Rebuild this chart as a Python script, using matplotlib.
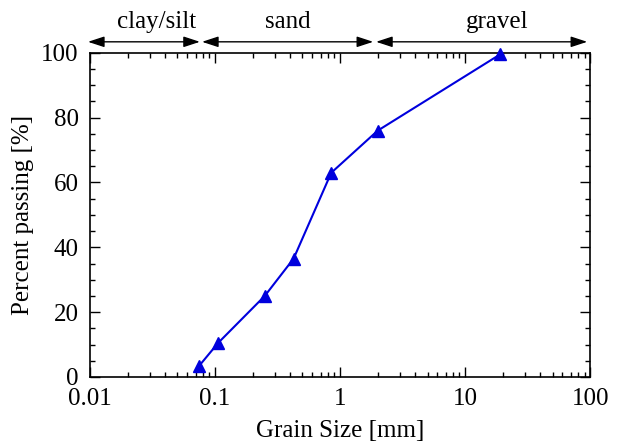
import numpy as np
import matplotlib.pyplot as plt
from matplotlib.ticker import LogLocator, MultipleLocator, FixedLocator

plt.rcParams['font.family'] = ['Liberation Serif', 'DejaVu Serif']
plt.rcParams['font.size'] = 18

# sieve data
grain_size = [0.075, 0.106, 0.25, 0.425, 0.85, 2.0, 19.0]
passing = [3.5, 10.5, 25.0, 36.5, 63.0, 76.0, 99.5]

# soil class boundaries [mm]
class_names = ["clay/silt", "sand", "gravel"]
class_bounds = [(0.01, 0.075), (0.075, 2.0), (2.0, 100.0)]

fig = plt.figure(figsize=(6.2, 4.44), dpi=100)
ax = fig.add_axes([0.145, 0.151, 0.807, 0.730])

ax.plot(grain_size, passing, color="#0000dd", marker="^", markersize=8, lw=1.5, clip_on=False, zorder=5)

ax.set_xscale("log")
ax.set_xlim(0.01, 100)
ax.set_ylim(0, 100)
ax.xaxis.set_major_locator(FixedLocator([0.01, 0.1, 1, 10, 100]))
ax.set_xticklabels(["0.01", "0.1", "1", "10", "100"])
ax.xaxis.set_minor_locator(LogLocator(base=10, subs=np.arange(2, 10), numticks=20))
ax.yaxis.set_major_locator(MultipleLocator(20))
ax.yaxis.set_minor_locator(MultipleLocator(5))
ax.tick_params(which="both", direction="in", top=True, right=True, width=1, labelsize=18)
ax.tick_params(which="major", length=7)
ax.tick_params(which="minor", length=3.5)
ax.tick_params(axis="x", which="major", pad=8)
ax.tick_params(axis="y", which="major", pad=8)
for s in ax.spines.values():
    s.set_linewidth(1.2)

ax.set_xlabel("Grain Size [mm]", labelpad=7)
ax.set_ylabel("Percent passing [%]", labelpad=5)

# class arrows above the plot
ytop = 1.034
arrow_ends = [(0.965, 1.01), (1.05, 0.92), (0.97, 0.946)]
label_x = [0.034, 0.38, 18.0]
for name, (a, b), (fa, fb), xm in zip(class_names, class_bounds, arrow_ends, label_x):
    ax.annotate("", xy=(b * fb, ytop), xytext=(a * fa, ytop),
                xycoords=("data", "axes fraction"), textcoords=("data", "axes fraction"),
                arrowprops=dict(arrowstyle="<|-|>,head_length=0.55,head_width=0.18", color="black", lw=1.0,
                                shrinkA=0, shrinkB=0), annotation_clip=False)
    ax.text(xm, ytop + 0.028, name, transform=ax.get_xaxis_transform(), ha="center", va="bottom")

fig.savefig("out.png", dpi=100)
